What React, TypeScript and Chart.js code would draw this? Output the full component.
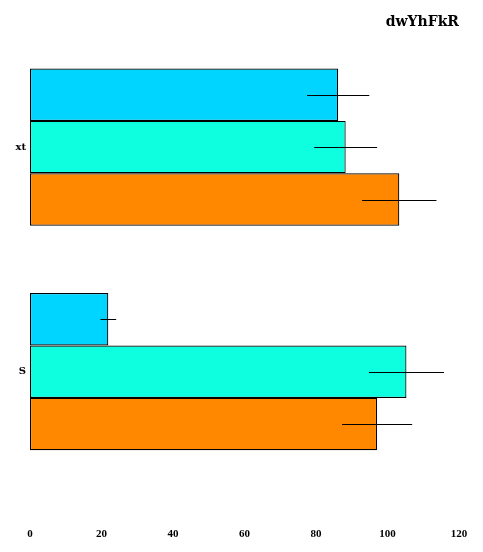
import React, { useEffect, useRef } from "react";
import { Chart, registerables } from "chart.js";

Chart.register(...registerables);

const categories = ["xt", "S"];
const series1 = [86.2, 21.9];
const series2 = [88.3, 105.3];
const series3 = [103.3, 97.1];
const err1 = [8.7, 2.2];
const err2 = [8.8, 10.5];
const err3 = [10.4, 9.8];
const xTicks = [0, 20, 40, 60, 80, 100, 120];
const titleText = "dwYhFkR";

const FONT = "'DejaVu Serif', serif";
const TICK_FONT = "'Liberation Serif', serif";

const errorBarPlugin = {
  id: "errorBars",
  afterDatasetsDraw(chart: any) {
    const ctx = chart.ctx;
    const xs = chart.scales.x;
    ctx.save();
    ctx.strokeStyle = "#000";
    ctx.lineWidth = 1;
    chart.data.datasets.forEach((ds: any, i: number) => {
      const meta = chart.getDatasetMeta(i);
      meta.data.forEach((bar: any, j: number) => {
        const v = ds.data[j];
        const e = ds.errors[j];
        const x1 = xs.getPixelForValue(v - e);
        const x2 = xs.getPixelForValue(v + e);
        const y = Math.round(bar.y) + 0.5;
        ctx.beginPath();
        ctx.moveTo(x1, y);
        ctx.lineTo(x2, y);
        ctx.stroke();
      });
    });
    ctx.restore();
  },
};

export default function App() {
  const ref = useRef<HTMLCanvasElement>(null);
  useEffect(() => {
    const chart = new Chart(ref.current!, {
      type: "bar",
      data: {
        labels: categories,
        datasets: [
          { label: "A", data: series1, errors: err1, backgroundColor: "#00D5FF" } as any,
          { label: "B", data: series2, errors: err2, backgroundColor: "#0DFFE0" } as any,
          { label: "C", data: series3, errors: err3, backgroundColor: "#FF8800" } as any,
        ].map((d: any) => ({
          ...d,
          borderColor: "#000",
          borderWidth: 1.2,
          borderSkipped: false,
          categoryPercentage: 0.7,
          barPercentage: 1.0,
        })),
      },
      options: {
        indexAxis: "y",
        animation: false,
        responsive: true,
        maintainAspectRatio: false,
        layout: { padding: { top: 6, right: 16, bottom: 0, left: 0 } },
        plugins: {
          legend: { display: false },
          tooltip: { enabled: false },
          title: {
            display: true,
            text: titleText,
            align: "end",
            color: "#000",
            font: { family: FONT, size: 14, weight: "bold" },
            padding: { top: 0, bottom: 4 },
          },
        },
        scales: {
          x: {
            min: 0,
            max: 120,
            afterBuildTicks: (s: any) => {
              s.ticks = xTicks.map((v) => ({ value: v }));
            },
            grid: { display: false, drawTicks: true, tickLength: 44 },
            border: { display: false },
            ticks: {
              color: "#000",
              padding: 0,
              font: { family: TICK_FONT, size: 11, weight: "bold" },
            },
            afterFit: (s: any) => {
              s.height = 60;
            },
          },
          y: {
            grid: { display: false, drawTicks: false },
            border: { display: false },
            ticks: {
              color: "#000",
              padding: 4,
              font: { family: FONT, size: 10, weight: "bold" },
            },
            afterFit: (s: any) => {
              s.width = 22;
            },
          },
        },
      } as any,
      plugins: [errorBarPlugin],
    });
    return () => chart.destroy();
  }, []);
  return (
    <div style={{ width: 467, height: 536, position: "relative" }}>
      <canvas ref={ref} />
    </div>
  );
}
